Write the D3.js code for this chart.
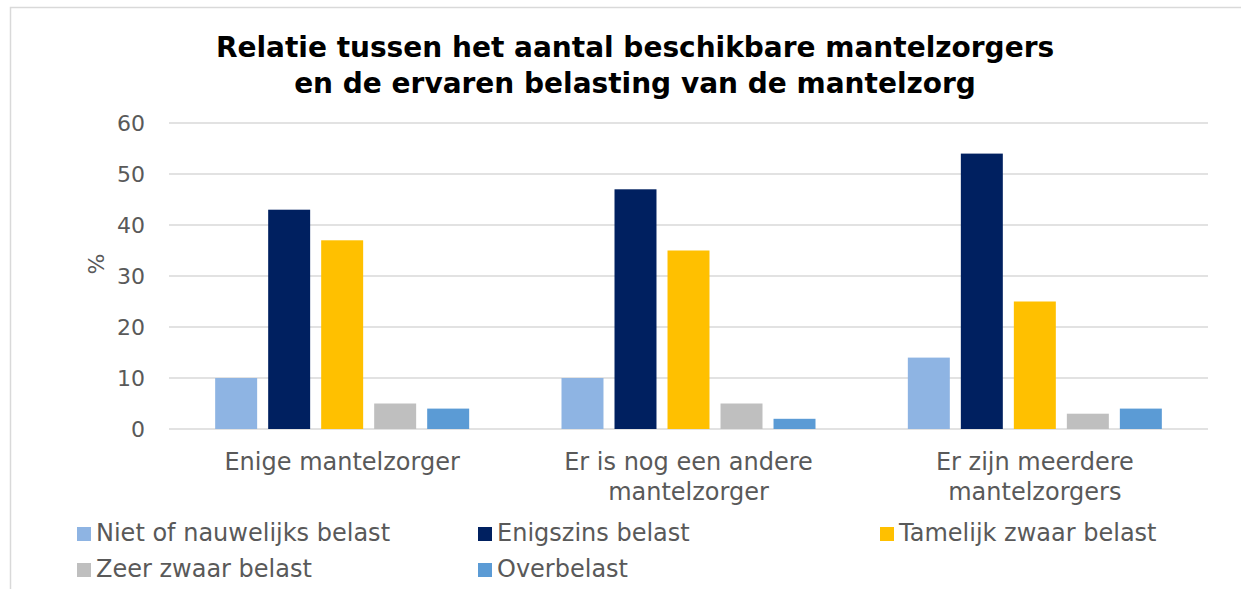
<!DOCTYPE html>
<html>
<head>
<meta charset="utf-8">
<script src="https://cdn.jsdelivr.net/npm/d3@7"></script>
<style>
  html, body { margin: 0; padding: 0; background: #fff; }
  svg { display: block; font-family: "DejaVu Sans", Verdana, sans-serif; }
</style>
</head>
<body>
<svg id="chart" width="1241" height="589"></svg>
<script>
// Groups along the x axis (each label split over lines)
const categories = [
  ["Enige mantelzorger"],
  ["Er is nog een andere", "mantelzorger"],
  ["Er zijn meerdere", "mantelzorgers"]
];
const categoryKeys = ["Enige mantelzorger", "Er is nog een andere mantelzorger", "Er zijn meerdere mantelzorgers"];

// Series (burden levels) and their values per group, in %
const seriesNames = ["Niet of nauwelijks belast", "Enigszins belast", "Tamelijk zwaar belast", "Zeer zwaar belast", "Overbelast"];
const nietOfNauwelijks = [10, 10, 14];
const enigszins       = [43, 47, 54];
const tamelijkZwaar   = [37, 35, 25];
const zeerZwaar       = [5, 5, 3];
const overbelast      = [4, 2, 4];
const yTicks = [0, 10, 20, 30, 40, 50, 60];

const seriesValues = [nietOfNauwelijks, enigszins, tamelijkZwaar, zeerZwaar, overbelast];
const colors = ["#8EB4E3", "#002060", "#FFC000", "#BFBFBF", "#5B9BD5"];

const svg = d3.select("#chart");
const W = 1241, H = 589;

// outer frame
svg.append("path")
  .attr("d", `M10.5,${H} V7.5 H${W}`)
  .attr("fill", "none").attr("stroke", "#d9d9d9").attr("stroke-width", 1.5);

// title
const title = svg.append("text")
  .attr("text-anchor", "middle")
  .attr("font-weight", "bold")
  .attr("font-size", 28)
  .attr("fill", "#000");
title.append("tspan").attr("x", 635).attr("y", 57).text("Relatie tussen het aantal beschikbare mantelzorgers");
title.append("tspan").attr("x", 635).attr("y", 93).text("en de ervaren belasting van de mantelzorg");

const plot = { left: 169, right: 1208, top: 123, bottom: 429 };

const x0 = d3.scaleBand().domain(categoryKeys).range([plot.left, plot.right]).paddingInner(0).paddingOuter(0);
const inner = 254 / x0.bandwidth();
const x1 = d3.scaleBand().domain(seriesNames)
  .range([x0.bandwidth() * (1 - inner) / 2, x0.bandwidth() * (1 + inner) / 2])
  .paddingInner(0.208).paddingOuter(0);
const y = d3.scaleLinear().domain([0, 60]).range([plot.bottom, plot.top]);

// gridlines
svg.append("g").selectAll("line").data(yTicks).join("line")
  .attr("x1", plot.left).attr("x2", plot.right)
  .attr("y1", d => y(d)).attr("y2", d => y(d))
  .attr("stroke", "#d9d9d9").attr("stroke-width", 1.5);

// y axis labels
const yAxis = svg.append("g")
  .attr("transform", `translate(${plot.left - 24},0)`)
  .call(d3.axisLeft(y).tickValues(yTicks).tickSize(0).tickPadding(0));
yAxis.select(".domain").remove();
yAxis.selectAll("text")
  .attr("font-family", "DejaVu Sans, Verdana, sans-serif")
  .attr("font-size", 22).attr("fill", "#595959").attr("dy", "0.35em");

// y axis title
svg.append("text")
  .attr("transform", `translate(104,${(plot.top + plot.bottom) / 2 - 12}) rotate(-90)`)
  .attr("text-anchor", "middle")
  .attr("font-size", 22).attr("fill", "#595959")
  .text("%");

// bars
const groups = svg.append("g").selectAll("g").data(categoryKeys).join("g")
  .attr("transform", d => `translate(${x0(d)},0)`);
groups.selectAll("rect")
  .data((d, i) => seriesNames.map((s, j) => ({ s, v: seriesValues[j][i], c: colors[j] })))
  .join("rect")
  .attr("x", d => x1(d.s))
  .attr("width", x1.bandwidth())
  .attr("y", d => y(d.v))
  .attr("height", d => y(0) - y(d.v))
  .attr("fill", d => d.c);

// category labels
const catLabels = svg.append("g").selectAll("text").data(categories).join("text")
  .attr("text-anchor", "middle")
  .attr("font-size", 24).attr("fill", "#595959");
catLabels.each(function (lines, i) {
  const cx = x0(categoryKeys[i]) + x0.bandwidth() / 2;
  d3.select(this).selectAll("tspan").data(lines).join("tspan")
    .attr("x", cx).attr("y", (d, k) => 470 + k * 30)
    .text(d => d);
});

// legend
const legendPos = [[77, 541], [478, 541], [880, 541], [77, 577], [478, 577]];
const legend = svg.append("g").selectAll("g").data(seriesNames).join("g")
  .attr("transform", (d, i) => `translate(${legendPos[i][0]},${legendPos[i][1]})`);
legend.append("rect").attr("x", 0).attr("y", -14).attr("width", 14).attr("height", 14)
  .attr("fill", (d, i) => colors[i]);
legend.append("text").attr("x", 19).attr("y", 0)
  .attr("font-size", 24).attr("fill", "#595959")
  .text(d => d);
</script>
</body>
</html>
